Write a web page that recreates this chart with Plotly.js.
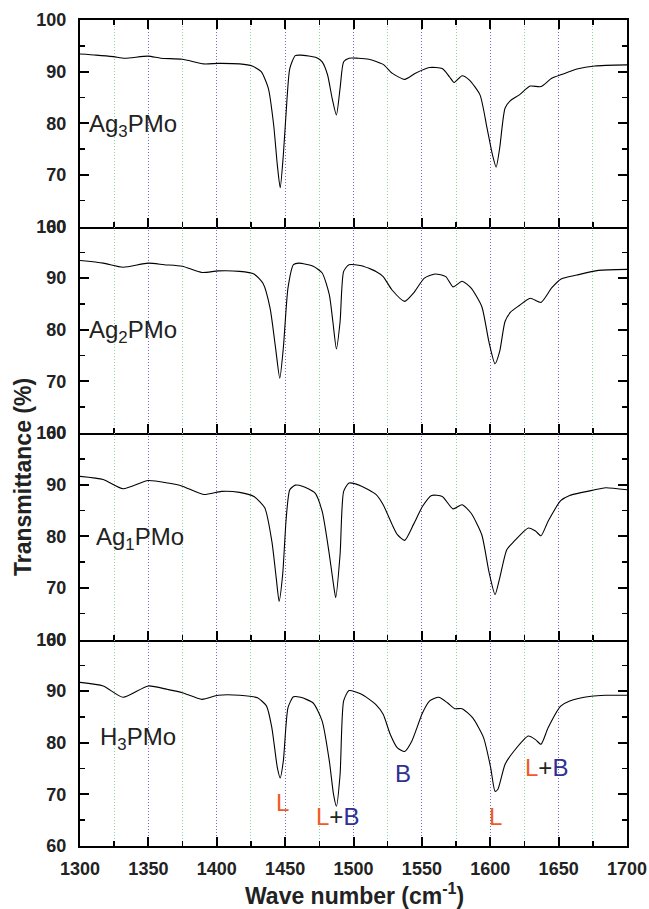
<!DOCTYPE html>
<html>
<head>
<meta charset="utf-8">
<script src="https://cdn.plot.ly/plotly-3.0.1.min.js"></script>
<style>
html,body{margin:0;padding:0;background:#fff;}
#chart{width:649px;height:909px;}
</style>
</head>
<body>
<div id="chart"></div>
<script>
// ---- data (wave number in cm-1, transmittance in %) ----
const sampleNames = ["Ag<sub>3</sub>PMo", "Ag<sub>2</sub>PMo", "Ag<sub>1</sub>PMo", "H<sub>3</sub>PMo"];

const ag3Wave = [1300,1311.8,1324.4,1332.8,1349.8,1359,1374.8,1390.5,1401,1416.7,1425.9,1432.5,1437.7,1441.6,1444.3,1446.4,1448.7,1451.4,1453.4,1457.4,1461.3,1473.1,1477.1,1481,1484.4,1487.5,1490.2,1492.8,1496.7,1503.3,1511.2,1521.7,1528.2,1537.4,1545.3,1555.7,1564.9,1570.2,1573.6,1579.4,1584.6,1592.5,1597.7,1601.6,1604.3,1606.9,1610.8,1614.8,1621.3,1629.2,1637.1,1644.9,1652.8,1663.4,1676.5,1700];
const ag3Trans = [93.4,93.2,92.9,92.6,93.0,92.6,92.4,91.5,91.6,91.5,91.1,90.0,86.8,79.7,71.9,67.5,73.9,84.8,90.6,93.1,93.2,92.7,91.9,89.4,84.8,81.6,86.8,91.9,92.6,92.6,92.4,91.4,89.7,88.5,89.7,90.8,90.6,89.0,87.9,89.2,88.4,85.5,79.0,73.9,71.5,75.2,82.9,84.4,85.5,87.2,87.1,88.7,89.5,90.5,91.1,91.3];

const ag2Wave = [1300,1317,1331.5,1349.8,1361.6,1374.8,1389.2,1401,1416.7,1427.2,1433.8,1439,1443,1446.1,1448.7,1452.1,1456.1,1460,1470.5,1477.1,1482.3,1484.9,1487.5,1490.2,1492.8,1496.7,1505.9,1516.4,1521.7,1528.2,1537.4,1543.9,1551.8,1559.7,1567.5,1572.8,1579.4,1585.9,1593.8,1599,1603.5,1606.9,1610.8,1614.8,1621.3,1629.2,1637.1,1644.9,1651.5,1663.4,1679.1,1700];
const ag2Trans = [93.4,92.9,92.1,92.9,92.6,92.3,91.1,91.4,91.3,90.8,89.0,84.2,76.5,70.6,76.5,88.1,92.6,92.9,92.3,91.0,86.8,81.6,76.3,81.6,91.3,92.6,92.4,91.3,90.3,87.7,85.5,87.1,90.0,90.8,90.3,88.3,89.4,88.1,84.5,77.7,73.4,75.8,81.6,83.4,84.7,86.1,85.3,88.1,89.8,90.6,91.5,91.7];

const ag1Wave = [1300,1317,1331.5,1349.8,1364.3,1374.8,1390.5,1403.6,1416.7,1427.2,1435.1,1440.3,1443.5,1445.6,1448.2,1450.8,1453.4,1457.4,1462.6,1471.8,1477.1,1482.3,1485.4,1487,1490.2,1492.8,1496.7,1505.9,1516.4,1521.7,1528.2,1532.1,1537.4,1543.9,1550.5,1557.1,1564.9,1572.8,1579.4,1585.9,1593.8,1599,1603.5,1606.9,1612.1,1617.4,1627.9,1633.1,1637.1,1642.3,1651.5,1658.1,1676.5,1684.3,1700];
const ag1Trans = [91.6,91.0,89.2,90.8,90.3,89.7,88.1,88.7,88.5,87.7,85.5,79.0,71.9,67.4,72.6,83.5,89.0,89.9,89.7,88.4,84.8,76.5,70.6,68.1,76.5,88.7,90.3,89.7,88.1,86.1,82.3,80.3,79.2,82.3,85.8,87.9,87.7,85.3,86.1,84.5,80.3,73.2,68.7,71.9,77.4,79.0,81.6,81.0,80.1,82.9,86.9,87.9,89.0,89.4,89.0];

const h3Wave = [1300,1317,1331.5,1349.8,1364.3,1374.8,1389.2,1401,1416.7,1429.8,1436.4,1440.3,1444.3,1446.4,1448.7,1452.1,1456.1,1461.3,1470.5,1477.1,1482.3,1485.4,1487.5,1490.2,1492.8,1496.7,1505.9,1516.4,1521.7,1526.9,1532.1,1537.4,1542.6,1550.5,1555.7,1562.3,1568.9,1574.1,1579.4,1587.2,1595.1,1600.3,1603.5,1605.6,1610.8,1617.4,1627.9,1633.1,1637.1,1642.3,1651.5,1658.1,1673.8,1684.3,1700];
const h3Trans = [91.7,91.0,88.8,91.0,90.3,89.7,88.4,89.2,89.2,88.7,87.1,82.9,75.2,73.2,76.5,86.8,88.9,88.8,87.7,84.2,76.5,70.0,67.7,73.9,88.1,90.1,89.4,87.4,85.5,81.6,79.0,78.3,80.3,85.8,88.1,88.8,87.7,86.6,86.6,84.8,81.0,75.2,70.6,71.0,75.8,78.4,81.3,80.6,79.7,82.9,87.1,88.1,89.0,89.2,89.2];

// peak assignment labels on the H3PMo panel
const peakLabelText = ["L", "L+B", "B", "L", "L+B"];
const peakLabelWave = [1448, 1488, 1536, 1604, 1641];
const peakLabelTrans = [68.4, 65.8, 74.0, 65.8, 75.2];

const yTickVals = [60, 70, 80, 90, 100];
const xRange = [1300, 1700];
const yRange = [60, 100];

// ---- styling ----
const FONT = "Liberation Sans, Arial, Helvetica, sans-serif";
const RED = "#f15a24";
const BLUE = "#2e3192";

const waves = [ag3Wave, ag2Wave, ag1Wave, h3Wave];
const trans = [ag3Trans, ag2Trans, ag1Trans, h3Trans];

const traces = waves.map((w, i) => ({
  type: "scatter",
  mode: "lines",
  x: w,
  y: trans[i],
  xaxis: i === 0 ? "x" : "x" + (i + 1),
  yaxis: i === 0 ? "y" : "y" + (i + 1),
  line: {color: "#000", width: 1.1, shape: "spline", smoothing: 0.6},
  hoverinfo: "skip",
  showlegend: false
}));

function xAxis(i) {
  return {
    range: xRange,
    anchor: i === 0 ? "y" : "y" + (i + 1),
    showline: true, linecolor: "#000", linewidth: 2,
    mirror: i === 0 ? "ticks" : false,
    ticks: "inside", ticklen: 9, tickwidth: 2, tickcolor: "#000",
    tick0: 1300, dtick: 50,
    showticklabels: i === 3,
    tickfont: {family: FONT, size: 18, color: "#222", weight: 700},
    ticklabelstandoff: 5,
    showgrid: true, gridcolor: "#6a6ad2", gridwidth: 1, griddash: "1px,2px",
    minor: {dtick: 25, ticks: "inside", ticklen: 5, tickwidth: 1.5, tickcolor: "#000",
            showgrid: true, gridcolor: "#86d79e", gridwidth: 1, griddash: "1px,2px"},
    zeroline: false,
    fixedrange: true
  };
}
function yAxis(i) {
  return {
    range: yRange,
    domain: [0.75 - 0.25 * i, 1 - 0.25 * i],
    anchor: i === 0 ? "x" : "x" + (i + 1),
    showline: true, linecolor: "#000", linewidth: 2, mirror: "ticks",
    ticks: "inside", ticklen: 9, tickwidth: 2, tickcolor: "#000",
    tickvals: yTickVals, ticktext: yTickVals.map(String),
    tickfont: {family: FONT, size: 18, color: "#222", weight: 700},
    ticklabelstandoff: 8,
    minor: {dtick: 5, tick0: 60, ticks: "inside", ticklen: 5, tickwidth: 1.5, tickcolor: "#000", showgrid: false},
    showgrid: false, zeroline: false,
    fixedrange: true
  };
}

const layout = {
  width: 649, height: 909,
  margin: {l: 80, r: 22, t: 20, b: 63},
  paper_bgcolor: "#fff", plot_bgcolor: "#fff",
  showlegend: false,
  font: {family: FONT, color: "#222"},
  annotations: []
};
for (let i = 0; i < 4; i++) {
  layout[i === 0 ? "xaxis" : "xaxis" + (i + 1)] = xAxis(i);
  layout[i === 0 ? "yaxis" : "yaxis" + (i + 1)] = yAxis(i);
}

// sample names
const nameWave = [1305, 1305, 1310.5, 1313];
const nameTrans = [79.6, 79.6, 79.6, 80.8];
sampleNames.forEach((n, i) => {
  layout.annotations.push({
    text: n, x: nameWave[i], y: nameTrans[i],
    xref: i === 0 ? "x" : "x" + (i + 1), yref: i === 0 ? "y" : "y" + (i + 1),
    xanchor: "left", yanchor: "middle", showarrow: false,
    font: {family: FONT, size: 24, color: "#222"}
  });
});

// peak labels
function colourLabel(t) {
  return t.split("").map(c => c === "L" ? `<span style="color:${RED}">L</span>` :
    c === "B" ? `<span style="color:${BLUE}">B</span>` : `<span style="color:#222">${c}</span>`).join("");
}
peakLabelText.forEach((t, i) => {
  layout.annotations.push({
    text: colourLabel(t), x: peakLabelWave[i], y: peakLabelTrans[i],
    xref: "x4", yref: "y4", xanchor: "center", yanchor: "middle", showarrow: false,
    font: {family: FONT, size: 24}
  });
});

// axis titles
layout.annotations.push({
  text: "Transmittance (%)", xref: "paper", yref: "paper",
  x: (23 - 80) / 547, y: (846 - 477) / 826, textangle: -90,
  xanchor: "center", yanchor: "middle", showarrow: false,
  font: {family: FONT, size: 23, color: "#222", weight: 700}
});
layout.annotations.push({
  text: "Wave number (cm<sup>-1</sup>)", xref: "paper", yref: "paper",
  x: (354 - 80) / 547, y: (846 - 894) / 826,
  xanchor: "center", yanchor: "middle", showarrow: false,
  font: {family: FONT, size: 23, color: "#222", weight: 700}
});

Plotly.newPlot("chart", traces, layout, {displayModeBar: false, staticPlot: true});
</script>
</body>
</html>
